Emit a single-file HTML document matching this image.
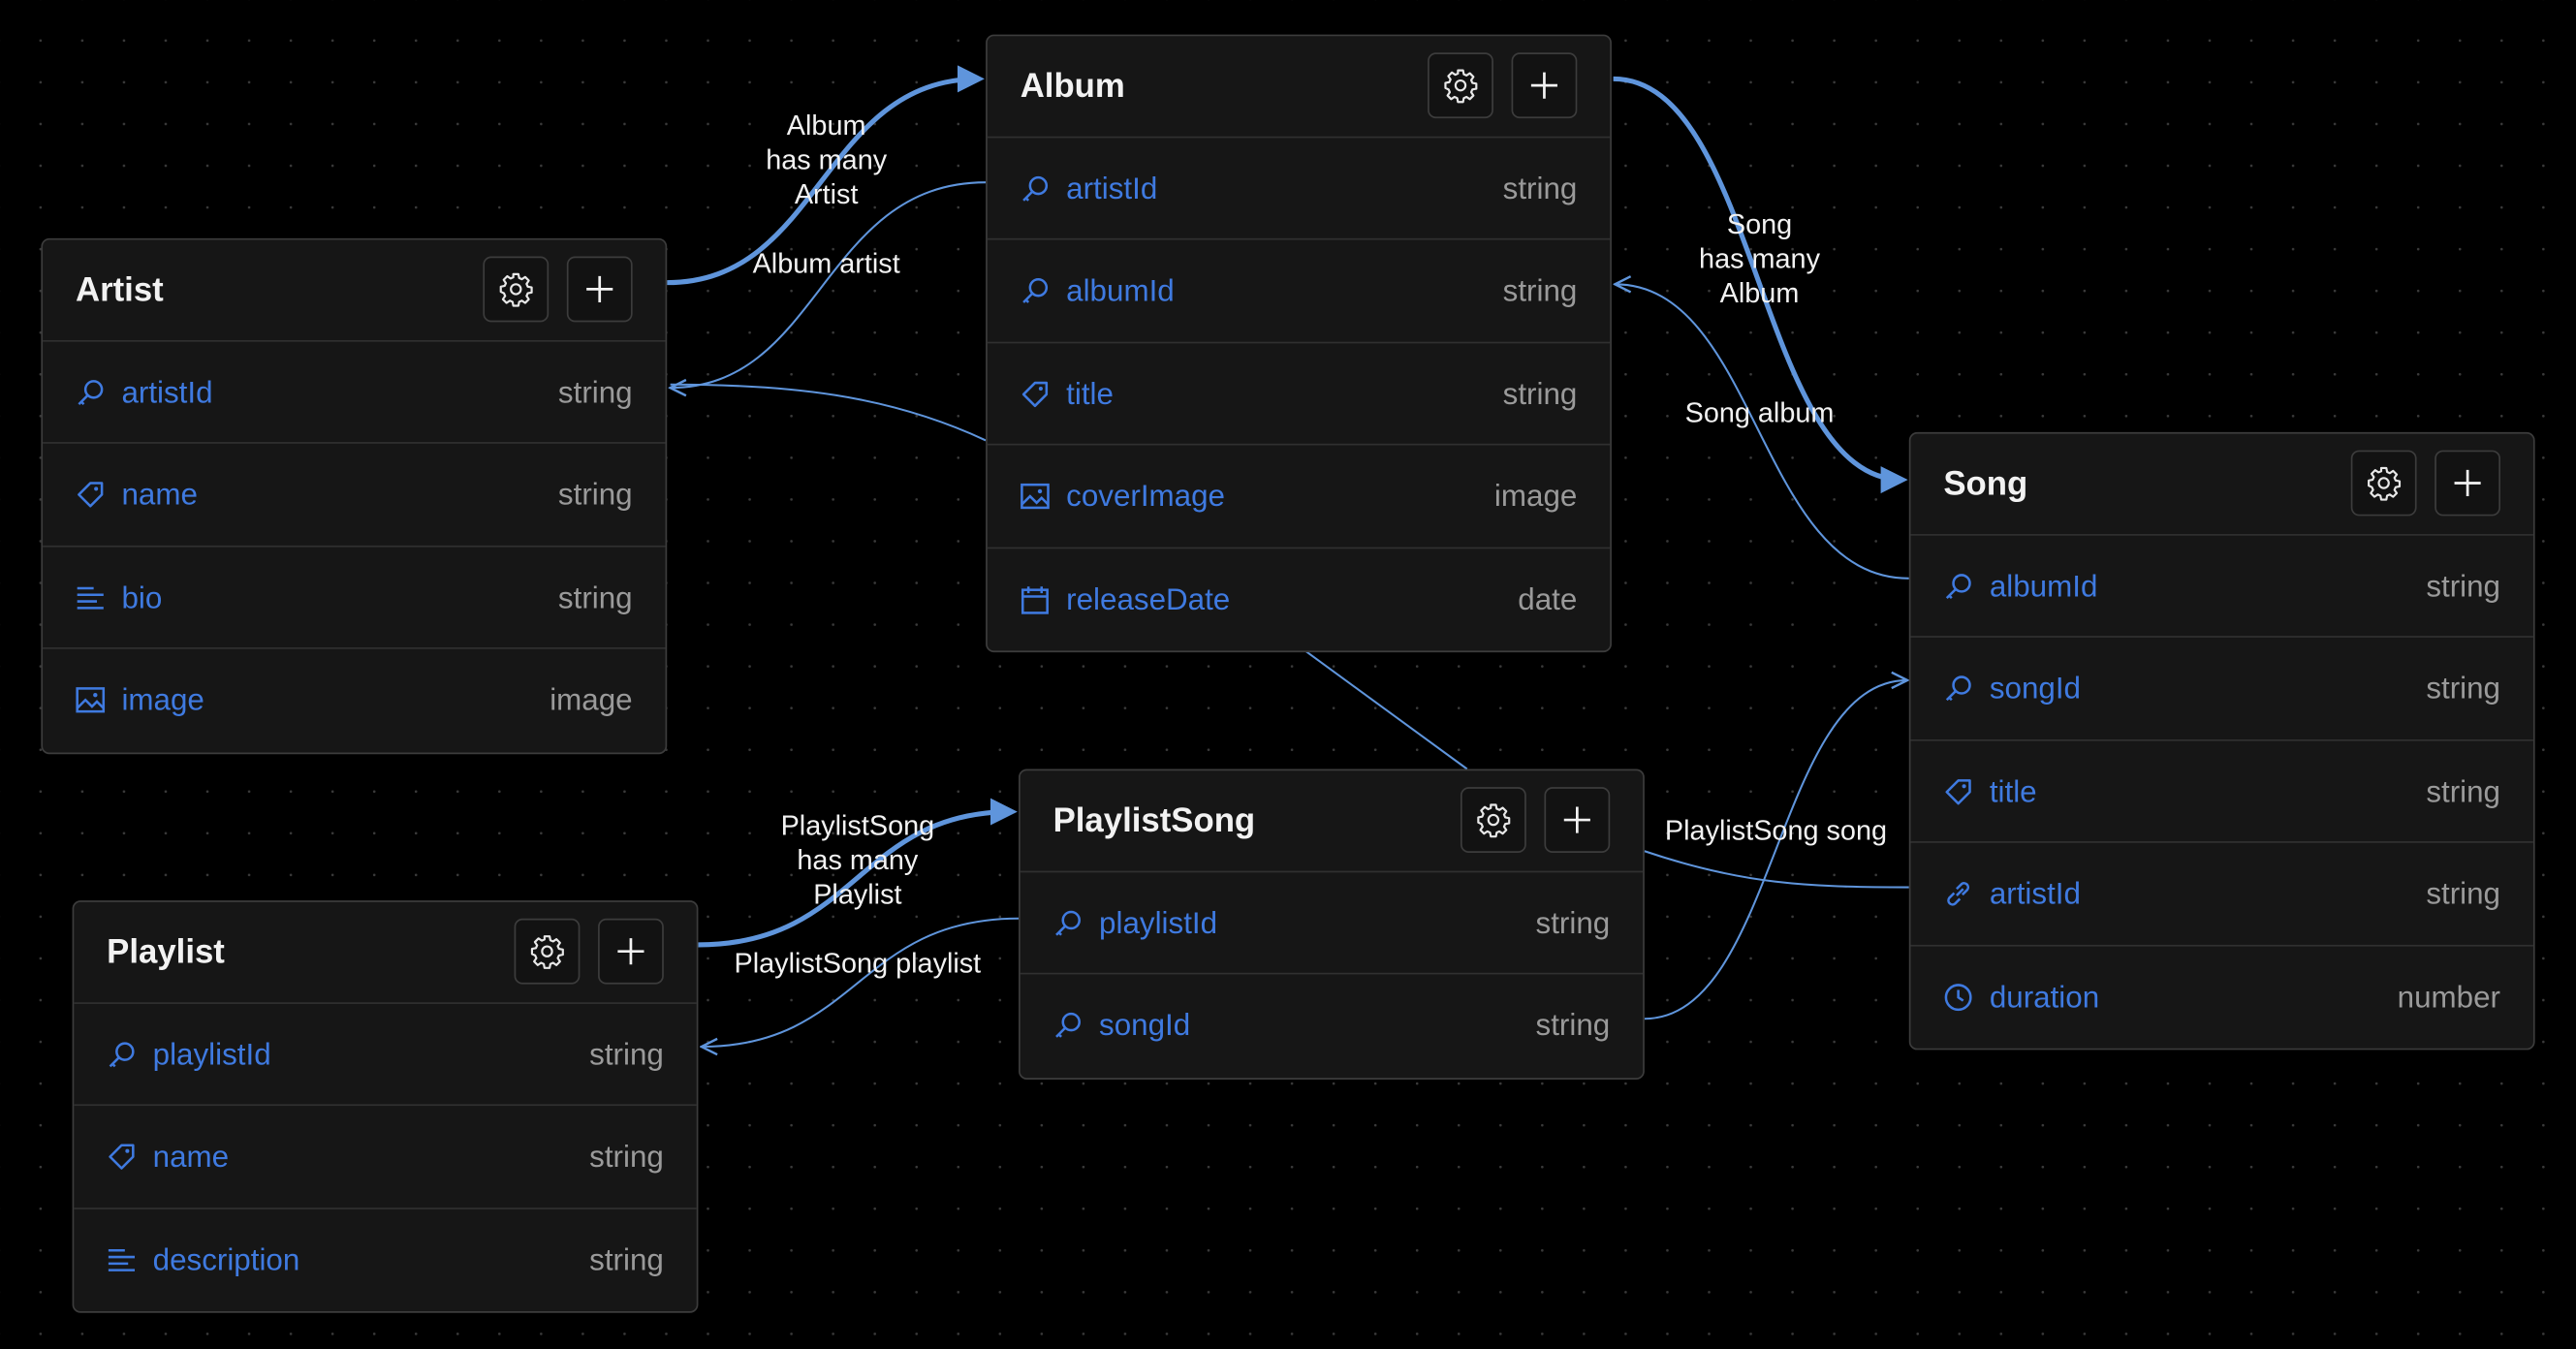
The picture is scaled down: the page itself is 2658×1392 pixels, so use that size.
<!DOCTYPE html>
<html><head><meta charset="utf-8">
<style>
html,body{margin:0;padding:0;background:#000;width:2658px;height:1392px;overflow:hidden}
#wrap{position:absolute;left:0;top:0;width:1568px;height:821px;transform:scale(1.69515,1.6955);transform-origin:0 0;
background-color:#000;
background-image:radial-gradient(circle,#3a3a3a 0.7px,transparent 0.9px);
background-size:25.4px 25.4px;background-position:12px 12px;
font-family:"Liberation Sans",sans-serif}
.node{position:absolute;width:381px;background:#161616;border:1px solid #3c3c3c;border-radius:5px;box-sizing:border-box}
.hdr{height:62px;border-bottom:1px solid #303030;box-sizing:border-box;position:relative}
.hdr .t{position:absolute;left:20px;top:19px;color:#f2f2f2;font-size:20.5px;font-weight:bold}
.btn{position:absolute;top:10px;width:40px;height:40px;border:1px solid #3c3c3c;border-radius:5px;background:#121212;box-sizing:border-box;display:flex;align-items:center;justify-content:center}
.b1{right:71px}.b2{right:20px}
.row{height:62.4px;border-bottom:1px solid #303030;box-sizing:border-box;position:relative}
.row:last-child{border-bottom:none}
.row svg{position:absolute;left:20px;top:22px}
.row .n{position:absolute;left:48px;top:20px;color:#3f7ae0;font-size:18.5px}
.row .ty{position:absolute;right:20px;top:20px;color:#9a9a9a;font-size:18.5px}
.lbl{position:absolute;color:#f2f2f2;font-size:17px;text-align:center;line-height:21px;transform:translateX(-50%);white-space:nowrap}
svg.edges{position:absolute;left:0;top:0}
</style></head><body>
<div id="wrap">
<svg width="0" height="0" style="position:absolute">
<defs>
<symbol id="key" viewBox="0 0 18 18"><circle cx="11" cy="7" r="5" fill="none" stroke="#3f7ae0" stroke-width="1.5"/><path d="M7.5 10.5L2 16M3.5 14.5l1.5 1.5" stroke="#3f7ae0" stroke-width="1.5" fill="none"/></symbol>
<symbol id="tag" viewBox="0 0 18 18"><path d="M9 2h7v7l-7 7-7-7z" fill="none" stroke="#3f7ae0" stroke-width="1.5" stroke-linejoin="round"/><circle cx="12.5" cy="5.5" r="1.2" fill="#3f7ae0"/></symbol>
<symbol id="lines" viewBox="0 0 18 18"><path d="M1 3h10M1 7h16M1 11h12M1 15h16" stroke="#3f7ae0" stroke-width="1.5"/></symbol>
<symbol id="img" viewBox="0 0 18 18"><rect x="1" y="2" width="16" height="14" fill="none" stroke="#3f7ae0" stroke-width="1.5"/><path d="M1 14l5-5 4 4 3-3 4 4" fill="none" stroke="#3f7ae0" stroke-width="1.5"/><circle cx="12" cy="6" r="1.3" fill="#3f7ae0"/></symbol>
<symbol id="cal" viewBox="0 0 18 18"><rect x="1.5" y="3" width="15" height="14" fill="none" stroke="#3f7ae0" stroke-width="1.5"/><path d="M1.5 7h15M5 1v4M13 1v4" stroke="#3f7ae0" stroke-width="1.5"/></symbol>
<symbol id="link" viewBox="0 0 18 18"><path d="M8 10l4-4M6.5 8.5l-3 3a2.5 2.5 0 0 0 3.5 3.5l3-3M11.5 9.5l3-3a2.5 2.5 0 0 0-3.5-3.5l-3 3" fill="none" stroke="#3f7ae0" stroke-width="1.5"/></symbol>
<symbol id="clock" viewBox="0 0 18 18"><circle cx="9" cy="9" r="7.5" fill="none" stroke="#3f7ae0" stroke-width="1.5"/><path d="M9 4.5V9l3 2" fill="none" stroke="#3f7ae0" stroke-width="1.5"/></symbol>
<symbol id="gear" viewBox="0 0 24 24"><path d="M10.3 2h3.4l.5 2.6 1.8.8 2.2-1.5 2.4 2.4-1.5 2.2.8 1.8 2.6.5v3.4l-2.6.5-.8 1.8 1.5 2.2-2.4 2.4-2.2-1.5-1.8.8-.5 2.6h-3.4l-.5-2.6-1.8-.8-2.2 1.5-2.4-2.4 1.5-2.2-.8-1.8L2 13.7v-3.4l2.6-.5.8-1.8-1.5-2.2 2.4-2.4 2.2 1.5 1.8-.8z" fill="none" stroke="#e8e8e8" stroke-width="1.4" stroke-linejoin="round"/><circle cx="12" cy="12" r="3.3" fill="none" stroke="#e8e8e8" stroke-width="1.4"/></symbol>
<symbol id="plus" viewBox="0 0 20 20"><path d="M10 2v16M2 10h16" stroke="#f2f2f2" stroke-width="1.6"/></symbol>
<marker id="fa" viewBox="0 0 10 10" refX="8" refY="5" markerWidth="5.5" markerHeight="6.5" orient="auto" markerUnits="strokeWidth"><path d="M0 0L10 5L0 10z" fill="#5f95dc"/></marker>
<marker id="oa" viewBox="0 0 10 10" refX="9" refY="5" markerWidth="10" markerHeight="10" orient="auto" markerUnits="strokeWidth"><path d="M1 1L9 5L1 9" fill="none" stroke="#5f95dc" stroke-width="1.2"/></marker>
</defs></svg>

<svg class="edges" width="1568" height="821">
<g fill="none" stroke="#5f95dc">
<path d="M406 172 C 500 172 500 48 596 48" stroke-width="3" marker-end="url(#fa)"/>
<path d="M600 111 C 500 111 500 236 408 236" stroke-width="1.2" marker-end="url(#oa)"/>
<path d="M600 268 C 540 240 480 234 408 234" stroke-width="1.2"/>
<path d="M982 48 C 1070 48 1070 292 1158 292" stroke-width="3" marker-end="url(#fa)"/>
<path d="M1162 352 C 1070 352 1070 173 983 173" stroke-width="1.2" marker-end="url(#oa)"/>
<path d="M793 395 L 893 468" stroke-width="1.2"/>
<path d="M425 575 C 522 575 522 494 616 494" stroke-width="3" marker-end="url(#fa)"/>
<path d="M620 559 C 522 559 522 637 427 637" stroke-width="1.2" marker-end="url(#oa)"/>
<path d="M1001 620 C 1081 620 1081 414 1161 414" stroke-width="1.2" marker-end="url(#oa)"/>
<path d="M1001 518 C 1060 538 1100 540 1162 540" stroke-width="1.2"/>
</g>
</svg>

<div class="lbl" style="left:503px;top:66px">Album<br>has many<br>Artist</div>
<div class="lbl" style="left:503px;top:150px">Album artist</div>
<div class="lbl" style="left:1071px;top:126px">Song<br>has many<br>Album</div>
<div class="lbl" style="left:1071px;top:241px">Song album</div>
<div class="lbl" style="left:522px;top:492px">PlaylistSong<br>has many<br>Playlist</div>
<div class="lbl" style="left:522px;top:576px">PlaylistSong playlist</div>
<div class="lbl" style="left:1081px;top:495px">PlaylistSong song</div>

<div class="node" style="left:25px;top:145px">
<div class="hdr"><span class="t">Artist</span><div class="btn b1"><svg width="22" height="22"><use href="#gear"/></svg></div><div class="btn b2"><svg width="20" height="20"><use href="#plus"/></svg></div></div>
<div class="row"><svg width="18" height="18"><use href="#key"/></svg><span class="n">artistId</span><span class="ty">string</span></div>
<div class="row"><svg width="18" height="18"><use href="#tag"/></svg><span class="n">name</span><span class="ty">string</span></div>
<div class="row"><svg width="18" height="18"><use href="#lines"/></svg><span class="n">bio</span><span class="ty">string</span></div>
<div class="row"><svg width="18" height="18"><use href="#img"/></svg><span class="n">image</span><span class="ty">image</span></div>
</div>

<div class="node" style="left:600px;top:21px">
<div class="hdr"><span class="t">Album</span><div class="btn b1"><svg width="22" height="22"><use href="#gear"/></svg></div><div class="btn b2"><svg width="20" height="20"><use href="#plus"/></svg></div></div>
<div class="row"><svg width="18" height="18"><use href="#key"/></svg><span class="n">artistId</span><span class="ty">string</span></div>
<div class="row"><svg width="18" height="18"><use href="#key"/></svg><span class="n">albumId</span><span class="ty">string</span></div>
<div class="row"><svg width="18" height="18"><use href="#tag"/></svg><span class="n">title</span><span class="ty">string</span></div>
<div class="row"><svg width="18" height="18"><use href="#img"/></svg><span class="n">coverImage</span><span class="ty">image</span></div>
<div class="row"><svg width="18" height="18"><use href="#cal"/></svg><span class="n">releaseDate</span><span class="ty">date</span></div>
</div>

<div class="node" style="left:1162px;top:263px">
<div class="hdr"><span class="t">Song</span><div class="btn b1"><svg width="22" height="22"><use href="#gear"/></svg></div><div class="btn b2"><svg width="20" height="20"><use href="#plus"/></svg></div></div>
<div class="row"><svg width="18" height="18"><use href="#key"/></svg><span class="n">albumId</span><span class="ty">string</span></div>
<div class="row"><svg width="18" height="18"><use href="#key"/></svg><span class="n">songId</span><span class="ty">string</span></div>
<div class="row"><svg width="18" height="18"><use href="#tag"/></svg><span class="n">title</span><span class="ty">string</span></div>
<div class="row"><svg width="18" height="18"><use href="#link"/></svg><span class="n">artistId</span><span class="ty">string</span></div>
<div class="row"><svg width="18" height="18"><use href="#clock"/></svg><span class="n">duration</span><span class="ty">number</span></div>
</div>

<div class="node" style="left:620px;top:468px">
<div class="hdr"><span class="t">PlaylistSong</span><div class="btn b1"><svg width="22" height="22"><use href="#gear"/></svg></div><div class="btn b2"><svg width="20" height="20"><use href="#plus"/></svg></div></div>
<div class="row"><svg width="18" height="18"><use href="#key"/></svg><span class="n">playlistId</span><span class="ty">string</span></div>
<div class="row"><svg width="18" height="18"><use href="#key"/></svg><span class="n">songId</span><span class="ty">string</span></div>
</div>

<div class="node" style="left:44px;top:548px">
<div class="hdr"><span class="t">Playlist</span><div class="btn b1"><svg width="22" height="22"><use href="#gear"/></svg></div><div class="btn b2"><svg width="20" height="20"><use href="#plus"/></svg></div></div>
<div class="row"><svg width="18" height="18"><use href="#key"/></svg><span class="n">playlistId</span><span class="ty">string</span></div>
<div class="row"><svg width="18" height="18"><use href="#tag"/></svg><span class="n">name</span><span class="ty">string</span></div>
<div class="row"><svg width="18" height="18"><use href="#lines"/></svg><span class="n">description</span><span class="ty">string</span></div>
</div>
</div>
</body></html>
